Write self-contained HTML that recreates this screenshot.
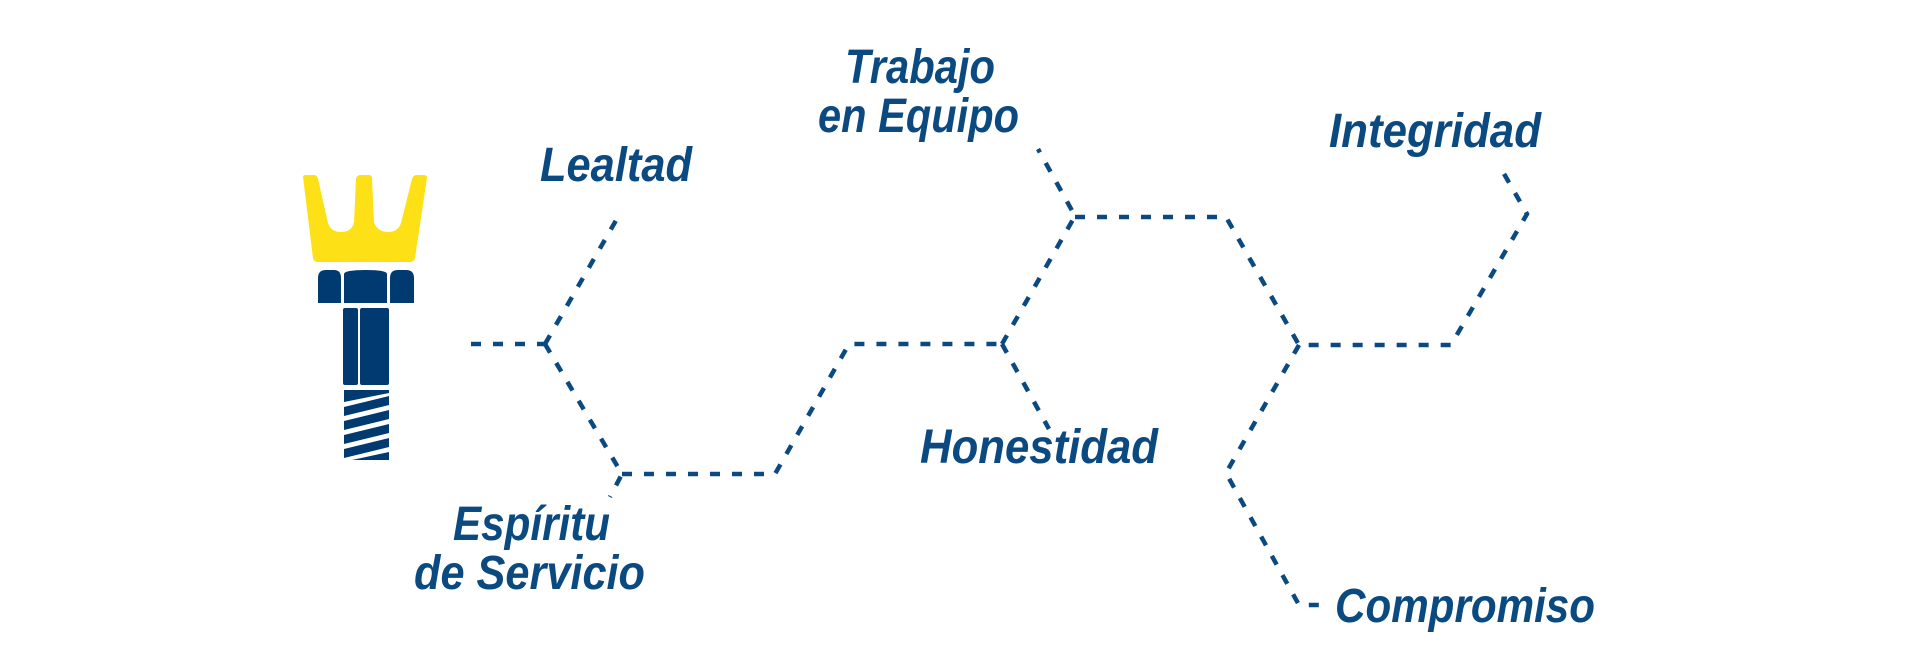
<!DOCTYPE html>
<html><head><meta charset="utf-8"><style>
html,body{margin:0;padding:0;background:#fff;}
svg{display:block;}
text{font-family:"Liberation Sans",sans-serif;font-style:italic;font-weight:bold;fill:#0b4a80;font-size:48px;}
</style></head><body>
<svg width="1920" height="670" viewBox="0 0 1920 670" xmlns="http://www.w3.org/2000/svg">
<path d="M303,177 Q303,175 306,175 L314,175 Q317,175 318,179 L328,223 Q331,232 341,232 Q352,232 354,222 L356,179 Q357,175 360,175 L369,175 Q372,175 372,179 L374,222 Q377,232 388,232 Q398,232 401,223 L412,179 Q413,175 417,175 L424,175 Q427,175 427,178 L415,258 Q414,262 410,262 L318,262 Q314,262 313,258 Z" fill="#fde015"/>
<path d="M318,303 L318,278 Q318,270 326,270 L334,270 Q341,270 341,278 L341,303 Z" fill="#003a70"/>
<path d="M344,303 L344,274 Q344,270 366,270 Q387,270 387,274 L387,303 Z" fill="#003a70"/>
<path d="M390,303 L390,278 Q390,270 398,270 L406,270 Q414,270 414,278 L414,303 Z" fill="#003a70"/>
<rect x="343" y="308" width="15" height="77" rx="2" fill="#003a70"/>
<rect x="360" y="308" width="29" height="77" rx="2" fill="#003a70"/>
<g fill="#003a70">
<path d="M344,390 L389,390 L389,393 L344,402 Z"/>
<path d="M344,407 L389,396 L389,405 L344,416 Z"/>
<path d="M344,421 L389,410 L389,419 L344,430 Z"/>
<path d="M344,435 L389,424 L389,433 L344,444 Z"/>
<path d="M344,449 L389,438 L389,447 L344,458 Z"/>
<path d="M352,460 L389,452 L389,460 Z"/>
</g>
<g fill="none" stroke="#0b4a80" stroke-width="4.5" stroke-dasharray="10 12">
<path d="M471,344 L545,344"/>
<path d="M545,344 L618,217"/>
<path d="M545,344 L622,474 L610,497"/>
<path d="M622,474 L775,474 L849,344 L1002,344"/>
<path d="M1002,344 L1049,429"/>
<path d="M1002,344 L1075,216 L1038,149"/>
<path d="M1075,217 L1226,217 L1299,345 L1451,345 L1527,214 L1499,165"/>
<path d="M1299,345 L1226,473 L1299,605 L1324,605"/>
</g>
<text x="540" y="181" textLength="152" lengthAdjust="spacingAndGlyphs">Lealtad</text>
<text x="845" y="83" textLength="150" lengthAdjust="spacingAndGlyphs">Trabajo</text>
<text x="818" y="132" textLength="201" lengthAdjust="spacingAndGlyphs">en Equipo</text>
<text x="1329" y="147" textLength="212" lengthAdjust="spacingAndGlyphs">Integridad</text>
<text x="920" y="463" textLength="238" lengthAdjust="spacingAndGlyphs">Honestidad</text>
<text x="453" y="540" textLength="157" lengthAdjust="spacingAndGlyphs">Espíritu</text>
<text x="414" y="589" textLength="231" lengthAdjust="spacingAndGlyphs">de Servicio</text>
<text x="1335" y="622" textLength="260" lengthAdjust="spacingAndGlyphs">Compromiso</text>
</svg>
</body></html>
